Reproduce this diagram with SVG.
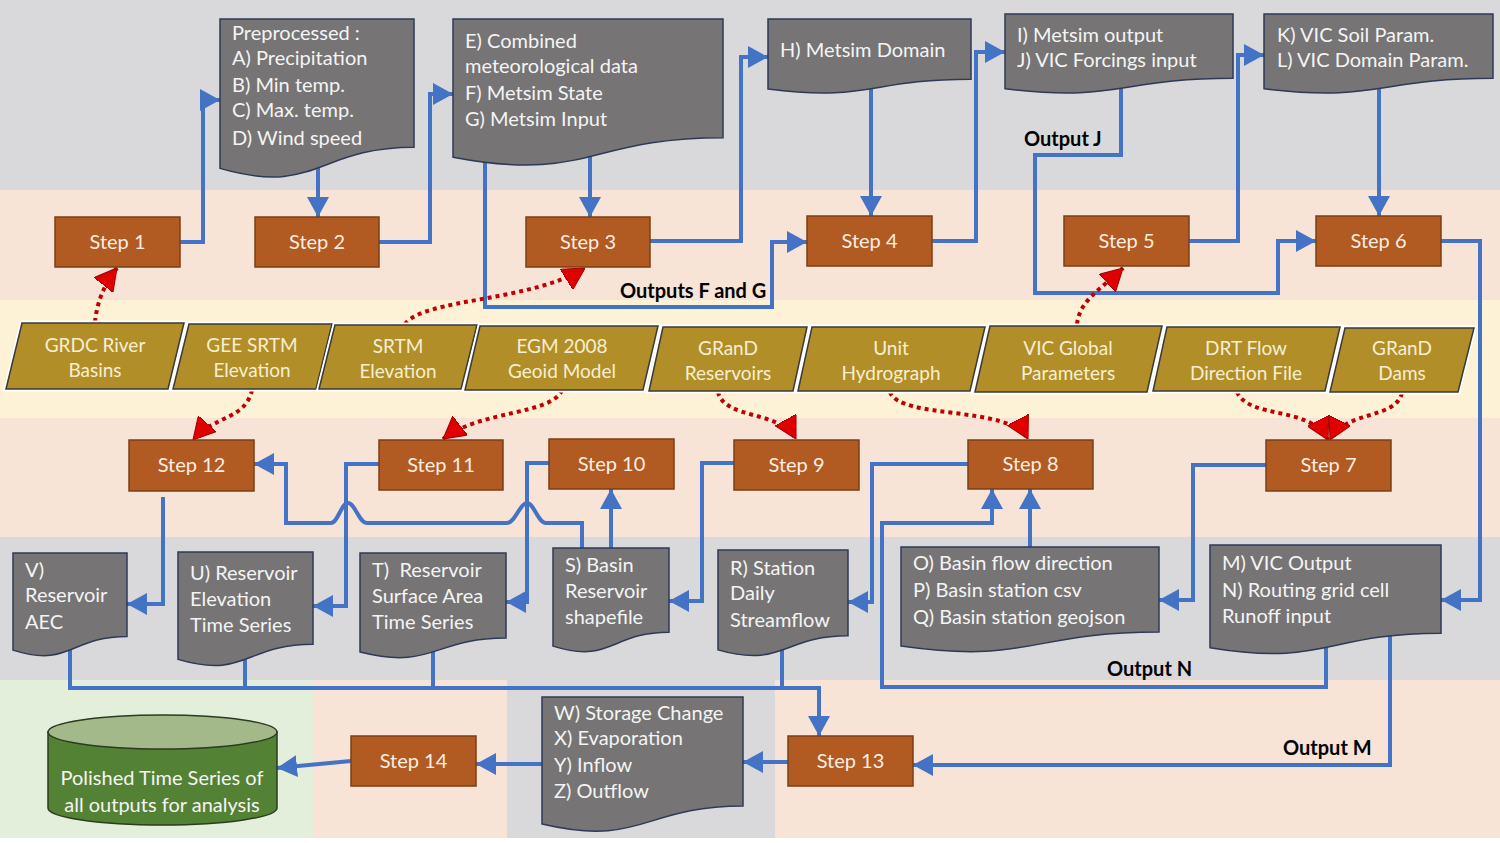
<svg xmlns="http://www.w3.org/2000/svg" width="1500" height="843" viewBox="0 0 1500 843">
<style>
.c{fill:none;stroke:#4472c4;stroke-width:4;marker-end:url(#ab)}
.cn{fill:none;stroke:#4472c4;stroke-width:4}
.r{fill:none;stroke:#c00000;stroke-width:4;stroke-dasharray:4 4;marker-end:url(#ar)}
.step{fill:#b15a22;stroke:#7a4018;stroke-width:1.5}
.st{font-family:Lato,"Open Sans",sans-serif;font-size:20px;fill:#fbeee2;text-anchor:middle}
.doc{fill:#767474;stroke:#2e3a55;stroke-width:1.5}
.dt{font-family:Lato,"Open Sans",sans-serif;font-size:20px;fill:#f4f4f4}
.ph{fill:none;stroke:#ffffff;stroke-width:5}
.pa{fill:#b18e27;stroke:#3a3a3a;stroke-width:1.5}
.pt{font-family:Lato,"Open Sans",sans-serif;font-size:19px;fill:#f6eed2;text-anchor:middle}
.lb{font-family:Lato,"Open Sans",sans-serif;font-size:20px;font-weight:bold;fill:#000}
</style>
<defs>
<marker id="ab" viewBox="0 0 20 22" refX="20" refY="11" markerWidth="20" markerHeight="22" markerUnits="userSpaceOnUse" orient="auto"><path d="M0,0 L20,11 L0,22 Z" fill="#4472c4"/></marker>
<marker id="ar" viewBox="0 0 20 22" refX="20" refY="11" markerWidth="22" markerHeight="24" markerUnits="userSpaceOnUse" orient="auto"><path d="M0,0 L20,11 L0,22 Z" fill="#e00000" stroke="#a00000" stroke-width="1"/></marker>
</defs>
<g id="background">
<rect x="0" y="0" width="1500" height="843" fill="#ffffff"/>
<rect x="0" y="0" width="1500" height="190" fill="#d9d9db"/>
<rect x="0" y="190" width="1500" height="110" fill="#f8e3d7"/>
<rect x="0" y="300" width="1500" height="118" fill="#fdf1d6"/>
<rect x="0" y="418" width="1500" height="119" fill="#f8e3d7"/>
<rect x="0" y="537" width="1500" height="143" fill="#d9d9db"/>
<rect x="0" y="680" width="313" height="158" fill="#e3efda"/>
<rect x="313" y="680" width="194" height="158" fill="#f8e3d7"/>
<rect x="507" y="680" width="268" height="158" fill="#d9d9db"/>
<rect x="775" y="680" width="725" height="158" fill="#f8e3d7"/>
</g>
<g id="connectors">
<path class="c" d="M180,242 H203 V100 H220"/>
<path class="c" d="M318,165 V217"/>
<path class="c" d="M379,242 H430 V94 H453"/>
<path class="c" d="M590,155 V217"/>
<path class="c" d="M650,241 H741 V57 H768"/>
<path class="c" d="M871,80 V216"/>
<path class="c" d="M932,241 H976 V52 H1005"/>
<path class="c" d="M1121,80 V155 H1035 V293 H1278 V241 H1316"/>
<path class="c" d="M1189,241 H1238 V55 H1264"/>
<path class="c" d="M1379,80 V216"/>
<path class="c" d="M1441,241 H1480 V600 H1441"/>
<path class="c" d="M485,150 V307 H772 V242 H807"/>
<path class="c" d="M1266,465 H1193 V600 H1159"/>
<path class="c" d="M1030,547 V489"/>
<path class="c" d="M1326,640 V687 H882 V523 H992 V489"/>
<path class="c" d="M1390,630 V765 H913"/>
<path class="c" d="M968,464 H872 V602 H848"/>
<path class="c" d="M734,463 H702 V601 H669"/>
<path class="c" d="M611,548 V489"/>
<path class="c" d="M582,548 V523 H546 C538,523 534,503 527,503 C520,503 515,523 507,523 H367 C359,523 355,503 348,503 C341,503 338,523 331,523 H286 V464 H254"/>
<path class="c" d="M379,464 H346 V606 H313"/>
<path class="c" d="M549,463 H527 V602 H506"/>
<path class="c" d="M163,497 V604 H127"/>
<path class="cn" d="M70,640 V688 M245,650 V688 M433,645 V688 M782,640 V688"/>
<path class="c" d="M68,688 H819 V736"/>
<path class="c" d="M788,762 H743"/>
<path class="c" d="M542,764 H476"/>
<path class="c" d="M351,761 L277,768"/>
<path class="r" d="M95,322 Q98,292 117,268"/>
<path class="r" d="M405,324 C425,298 530,302 585,268"/>
<path class="r" d="M252,390 C245,420 215,415 193,440"/>
<path class="r" d="M562,390 C552,415 480,410 443,439"/>
<path class="r" d="M718,392 C725,420 780,410 796,439"/>
<path class="r" d="M890,392 C900,420 1010,405 1028,439"/>
<path class="r" d="M1077,324 C1080,300 1100,290 1123,268"/>
<path class="r" d="M1237,392 C1250,420 1310,405 1328,440"/>
<path class="r" d="M1402,393 C1395,420 1345,410 1330,440"/>
<text class="lb" x="620" y="298">Outputs F and G</text>
<text class="lb" x="1024" y="146">Output J</text>
<text class="lb" x="1107" y="676">Output N</text>
<text class="lb" x="1283" y="755">Output M</text>
</g>
<g id="step1"><rect class="step" x="55" y="217" width="125" height="50"/><text class="st" x="117.5" y="249">Step 1</text></g>
<g id="step2"><rect class="step" x="255" y="217" width="124" height="50"/><text class="st" x="317" y="249">Step 2</text></g>
<g id="step3"><rect class="step" x="526" y="217" width="124" height="50"/><text class="st" x="588" y="249">Step 3</text></g>
<g id="step4"><rect class="step" x="807" y="216" width="125" height="50"/><text class="st" x="869.5" y="248">Step 4</text></g>
<g id="step5"><rect class="step" x="1064" y="216" width="125" height="50"/><text class="st" x="1126.5" y="248">Step 5</text></g>
<g id="step6"><rect class="step" x="1316" y="216" width="125" height="50"/><text class="st" x="1378.5" y="248">Step 6</text></g>
<g id="step7"><rect class="step" x="1266" y="440" width="125" height="51"/><text class="st" x="1328.5" y="472">Step 7</text></g>
<g id="step8"><rect class="step" x="968" y="440" width="125" height="49"/><text class="st" x="1030.5" y="471">Step 8</text></g>
<g id="step9"><rect class="step" x="734" y="440" width="125" height="50"/><text class="st" x="796.5" y="472">Step 9</text></g>
<g id="step10"><rect class="step" x="549" y="439" width="125" height="50"/><text class="st" x="611.5" y="471">Step 10</text></g>
<g id="step11"><rect class="step" x="379" y="440" width="124" height="50"/><text class="st" x="441" y="472">Step 11</text></g>
<g id="step12"><rect class="step" x="129" y="440" width="125" height="51"/><text class="st" x="191.5" y="472">Step 12</text></g>
<g id="step13"><rect class="step" x="788" y="736" width="125" height="50"/><text class="st" x="850.5" y="768">Step 13</text></g>
<g id="step14"><rect class="step" x="351" y="736" width="125" height="50"/><text class="st" x="413.5" y="768">Step 14</text></g>
<g id="docPre"><path class="doc" d="M220,19 H414 V147.3 C317,147.3 317,196.2 220,168.4 Z"/><text class="dt" x="232" y="40">Preprocessed :</text><text class="dt" x="232" y="65">A) Precipitation</text><text class="dt" x="232" y="92">B) Min temp.</text><text class="dt" x="232" y="117">C) Max. temp.</text><text class="dt" x="232" y="145">D) Wind speed</text></g>
<g id="docE"><path class="doc" d="M453,19 H723 V137.7 C588,137.7 588,182.9 453,157.2 Z"/><text class="dt" x="465" y="48">E) Combined</text><text class="dt" x="465" y="73">meteorological data</text><text class="dt" x="465" y="100">F) Metsim State</text><text class="dt" x="465" y="126">G) Metsim Input</text></g>
<g id="docH"><path class="doc" d="M768,19 H971 V79.2 C869.5,79.2 869.5,102.1 768,89 Z"/><text class="dt" x="780" y="57">H) Metsim Domain</text></g>
<g id="docI"><path class="doc" d="M1005,14 H1233 V78.2 C1119,78.2 1119,102.6 1005,88.7 Z"/><text class="dt" x="1017" y="42">I) Metsim output</text><text class="dt" x="1017" y="67">J) VIC Forcings input</text></g>
<g id="docK"><path class="doc" d="M1264,14 H1493 V78.2 C1378.5,78.2 1378.5,102.6 1264,88.7 Z"/><text class="dt" x="1277" y="42">K) VIC Soil Param.</text><text class="dt" x="1277" y="67">L) VIC Domain Param.</text></g>
<g id="docV"><path class="doc" d="M13,553 H127 V636.4 C70,636.4 70,668.2 13,650.1 Z"/><text class="dt" x="25" y="577">V)</text><text class="dt" x="25" y="602">Reservoir</text><text class="dt" x="25" y="629">AEC</text></g>
<g id="docU"><path class="doc" d="M178,552 H313 V644.2 C245.5,644.2 245.5,679.4 178,659.4 Z"/><text class="dt" x="190" y="580">U) Reservoir</text><text class="dt" x="190" y="606">Elevation</text><text class="dt" x="190" y="632">Time Series</text></g>
<g id="docT"><path class="doc" d="M360,553 H506 V638 C433,638 433,670.4 360,652 Z"/><text class="dt" x="372" y="577" xml:space="preserve">T)  Reservoir</text><text class="dt" x="372" y="603">Surface Area</text><text class="dt" x="372" y="629">Time Series</text></g>
<g id="docS"><path class="doc" d="M553,548 H669 V632.2 C611,632.2 611,664.3 553,646.1 Z"/><text class="dt" x="565" y="572">S) Basin</text><text class="dt" x="565" y="598">Reservoir</text><text class="dt" x="565" y="624">shapefile</text></g>
<g id="docR"><path class="doc" d="M718,550 H848 V635.8 C783,635.8 783,668.5 718,649.9 Z"/><text class="dt" x="730" y="575">R) Station</text><text class="dt" x="730" y="600">Daily</text><text class="dt" x="730" y="627">Streamflow</text></g>
<g id="docO"><path class="doc" d="M901,547 H1159 V632 C1030,632 1030,664.4 901,646 Z"/><text class="dt" x="913" y="570">O) Basin flow direction</text><text class="dt" x="913" y="597">P) Basin station csv</text><text class="dt" x="913" y="624">Q) Basin station geojson</text></g>
<g id="docM"><path class="doc" d="M1210,545 H1441 V633.2 C1325.5,633.2 1325.5,666.8 1210,647.7 Z"/><text class="dt" x="1222" y="570">M) VIC Output</text><text class="dt" x="1222" y="597">N) Routing grid cell</text><text class="dt" x="1222" y="623">Runoff input</text></g>
<g id="docW"><path class="doc" d="M542,697 H743 V806.1 C642.5,806.1 642.5,847.6 542,824 Z"/><text class="dt" x="554" y="720">W) Storage Change</text><text class="dt" x="554" y="745">X) Evaporation</text><text class="dt" x="554" y="772">Y) Inflow</text><text class="dt" x="554" y="798">Z) Outflow</text></g>
<g id="dGRDC"><polygon class="ph" points="22,323 184,323 168,389 6,389"/><polygon class="pa" points="22,323 184,323 168,389 6,389"/><text class="pt" x="95" y="352">GRDC River</text><text class="pt" x="95" y="377">Basins</text></g>
<g id="dGEE"><polygon class="ph" points="189,324 332,324 316,389 173,389"/><polygon class="pa" points="189,324 332,324 316,389 173,389"/><text class="pt" x="252" y="352">GEE SRTM</text><text class="pt" x="252" y="377">Elevation</text></g>
<g id="dSRTM"><polygon class="ph" points="335,325 477,325 461,389 319,389"/><polygon class="pa" points="335,325 477,325 461,389 319,389"/><text class="pt" x="398" y="353">SRTM</text><text class="pt" x="398" y="378">Elevation</text></g>
<g id="dEGM"><polygon class="ph" points="480,326 658,326 643,390 465,390"/><polygon class="pa" points="480,326 658,326 643,390 465,390"/><text class="pt" x="562" y="353">EGM 2008</text><text class="pt" x="562" y="378">Geoid Model</text></g>
<g id="dGRanDR"><polygon class="ph" points="663,327 807,327 793,391 649,391"/><polygon class="pa" points="663,327 807,327 793,391 649,391"/><text class="pt" x="728" y="355">GRanD</text><text class="pt" x="728" y="380">Reservoirs</text></g>
<g id="dUnit"><polygon class="ph" points="812,327 985,327 970,391 798,391"/><polygon class="pa" points="812,327 985,327 970,391 798,391"/><text class="pt" x="891" y="355">Unit</text><text class="pt" x="891" y="380">Hydrograph</text></g>
<g id="dVIC"><polygon class="ph" points="990,326 1162,326 1147,392 975,392"/><polygon class="pa" points="990,326 1162,326 1147,392 975,392"/><text class="pt" x="1068" y="355">VIC Global</text><text class="pt" x="1068" y="380">Parameters</text></g>
<g id="dDRT"><polygon class="ph" points="1167,327 1340,327 1325,391 1153,391"/><polygon class="pa" points="1167,327 1340,327 1325,391 1153,391"/><text class="pt" x="1246" y="355">DRT Flow</text><text class="pt" x="1246" y="380">Direction File</text></g>
<g id="dGRanDD"><polygon class="ph" points="1345,328 1474,328 1458,392 1330,392"/><polygon class="pa" points="1345,328 1474,328 1458,392 1330,392"/><text class="pt" x="1402" y="355">GRanD</text><text class="pt" x="1402" y="380">Dams</text></g>
<g id="db">
<path d="M48,732 V808 A114.5,17 0 0 0 277,808 V732 Z" fill="#548235" stroke="#2c3b22" stroke-width="1.5"/>
<ellipse cx="162.5" cy="732" rx="114.5" ry="17" fill="#a3b98a" stroke="#2c3b22" stroke-width="1.5"/>
<text class="dt" x="162" y="785" text-anchor="middle">Polished Time Series of</text>
<text class="dt" x="162" y="812" text-anchor="middle">all outputs for analysis</text>
</g>
</svg>
